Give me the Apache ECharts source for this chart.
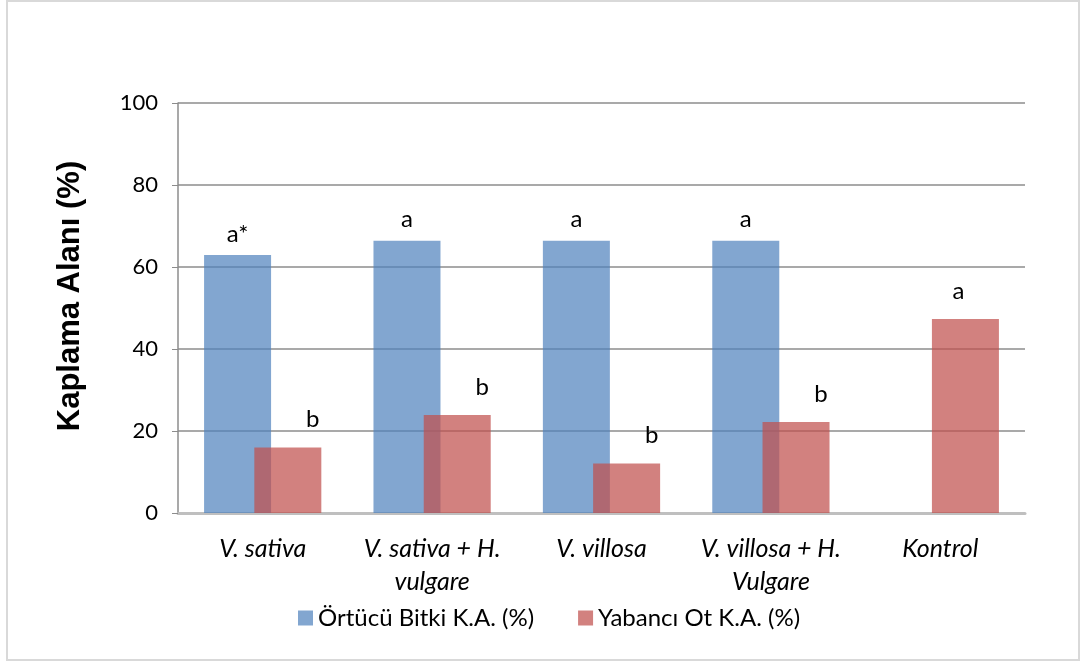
<!DOCTYPE html>
<html>
<head>
<meta charset="utf-8">
<script src="https://cdn.jsdelivr.net/npm/echarts@6/dist/echarts.min.js"></script>
<style>
  html, body { margin: 0; padding: 0; background: #fff; }
  #frame {
    position: absolute; left: 6px; top: 0; width: 1074px; height: 661px;
    border: 2px solid #d9d9d9; box-sizing: border-box;
  }
  #chart { position: absolute; left: 0; top: 0; width: 1082px; height: 664px; }
</style>
</head>
<body>
<div id="frame"></div>
<div id="chart"></div>
<script>
// kategoriler ve değerler
const categories = ['V. sativa', 'V. sativa + H.\nvulgare', 'V. villosa', 'V. villosa + H.\nVulgare', 'Kontrol']
const ortucu = [62.9, 66.4, 66.4, 66.4, null]
const yabanci = [16.0, 23.9, 12.1, 22.2, 47.3]
const ortucuHarf = ['a*', 'a', 'a', 'a', '']
const yabanciHarf = ['b', 'b', 'b', 'b', 'a']
const yTicks = [0, 20, 40, 60, 80, 100]

const font = 'Lato, "Open Sans", sans-serif'

const chart = echarts.init(document.getElementById('chart'))

const option = {
  animation: false,
  textStyle: { fontFamily: font },
  grid: { left: 178, right: 57, top: 103, bottom: 151 },
  legend: {
    bottom: 29,
    left: 293,
    itemWidth: 15,
    itemHeight: 15,
    itemGap: 44,
    icon: 'rect',
    textStyle: { fontSize: 24, color: '#000', fontFamily: font },
    data: ['Örtücü Bitki K.A. (%)', 'Yabancı Ot K.A. (%)']
  },
  xAxis: {
    type: 'category',
    data: categories,
    axisLine: { lineStyle: { color: '#bfbfbf', width: 3 } },
    axisTick: { show: false },
    axisLabel: {
      interval: 0, hideOverlap: false,
      fontSize: 25, fontStyle: 'italic', color: '#000', margin: 19,
      lineHeight: 33, fontFamily: font
    }
  },
  yAxis: {
    type: 'value',
    min: 0,
    max: yTicks[yTicks.length - 1],
    interval: 20,
    name: 'Kaplama Alanı (%)',
    nameLocation: 'middle',
    nameGap: 92,
    nameTextStyle: {
      fontSize: 31, fontWeight: 'bold', color: '#000',
      fontFamily: '"Liberation Sans", Arial, sans-serif',
      padding: [0, 0, 0, 24]
    },
    axisLine: { show: true, lineStyle: { color: '#8c8c8c', width: 1.5 } },
    axisTick: { show: true, length: 6, lineStyle: { color: '#8c8c8c' } },
    axisLabel: { fontSize: 22, color: '#000', margin: 20, fontFamily: font },
    splitLine: { lineStyle: { color: '#8c8c8c', width: 1.5 } }
  },
  series: [
    {
      name: 'Örtücü Bitki K.A. (%)',
      type: 'bar',
      barWidth: 67,
      barGap: '-25%',
      itemStyle: { color: 'rgba(79,129,189,0.71)' },
      label: {
        show: true, position: 'top', distance: 9, fontSize: 24, color: '#000',
        formatter: p => ortucuHarf[p.dataIndex]
      },
      data: ortucu
    },
    {
      name: 'Yabancı Ot K.A. (%)',
      type: 'bar',
      barWidth: 67,
      itemStyle: { color: 'rgba(192,80,77,0.72)' },
      label: {
        show: true, position: 'top', distance: 16, fontSize: 24, color: '#000',
        formatter: p => yabanciHarf[p.dataIndex]
      },
      data: yabanci.map((v, i) => ({
        value: v,
        label: { offset: i < 4 ? [25, 0] : [-7, 0] }
      }))
    }
  ]
}

chart.setOption(option)
</script>
</body>
</html>
